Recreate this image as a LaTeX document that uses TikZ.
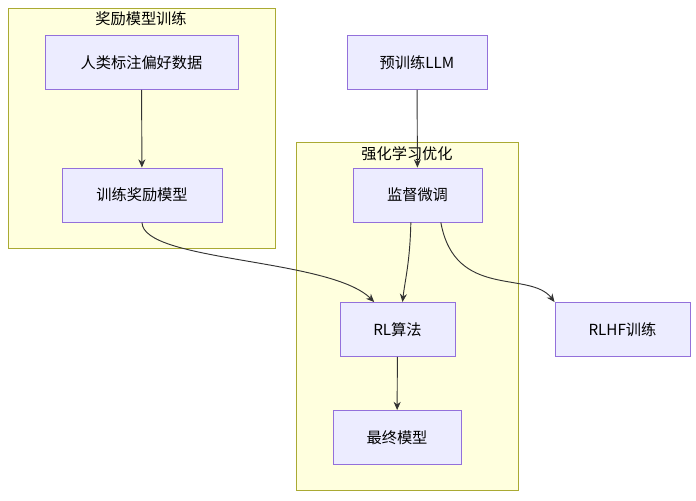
\documentclass[tikz,border=0pt]{standalone}
\usepackage{fontspec}
\setmainfont{Noto Sans CJK SC}
\usetikzlibrary{arrows.meta}
\definecolor{nodeborder}{HTML}{9370DB}
\definecolor{nodefill}{HTML}{ECECFF}
\definecolor{clusterborder}{HTML}{AAAA33}
\definecolor{clusterfill}{HTML}{FFFFDE}
\tikzstyle{cluster}=[draw=clusterborder, fill=clusterfill, line width=0.8pt]
\tikzstyle{box}=[draw=nodeborder, fill=nodefill, line width=0.8pt, font=\fontsize{13}{15}\selectfont, minimum height=1.62cm]
\tikzstyle{link}=[draw=black!80, line width=0.8pt, -{Stealth[length=7pt,width=6pt]}]

\begin{document}
\begin{tikzpicture}[x=0.03cm, y=-0.03cm]
	\useasboundingbox (0,0) rectangle (696,500);
	% clusters
	\draw[cluster] (8,8) rectangle (275,248);
	\node[font=\fontsize{13}{15}\selectfont] (rmtitle) at (141,19) {奖励模型训练};
	\draw[cluster] (296,142) rectangle (518,490);
	\node[font=\fontsize{13}{15}\selectfont] (rltitle) at (407,154) {强化学习优化};
	% nodes
	\node[box, minimum width=5.79cm] (pref) at (141.5,62.5) {人类标注偏好数据};
	\node[box, minimum width=4.8cm] (rm) at (142,195) {训练奖励模型};
	\node[box, minimum width=4.2cm] (llm) at (417,62.5) {预训练LLM};
	\node[box, minimum width=3.87cm] (sft) at (417.5,195) {监督微调};
	\node[box, minimum width=3.45cm] (rl) at (397.5,329.5) {RL算法};
	\node[box, minimum width=3.84cm] (final) at (397,437.5) {最终模型};
	\node[box, minimum width=4.05cm] (rlhf) at (622.5,329.5) {RLHF训练};
	% connectors
	\draw[link] (pref) -- (rm);
	\draw[link] (llm) -- (sft);
	\draw[link] (rl) -- (final);
	\draw[link] (rm.south) .. controls (143,262) and (330,258) .. ([xshift=-0.7cm]rl.north);
	\draw[link] ([xshift=-0.2cm]sft.south) .. controls (410,262) and (405,280) .. ([xshift=0.15cm]rl.north);
	\draw[link] ([xshift=0.7cm]sft.south) .. controls (455,300) and (530,270) .. (rlhf.north west);
\end{tikzpicture}
\end{document}
